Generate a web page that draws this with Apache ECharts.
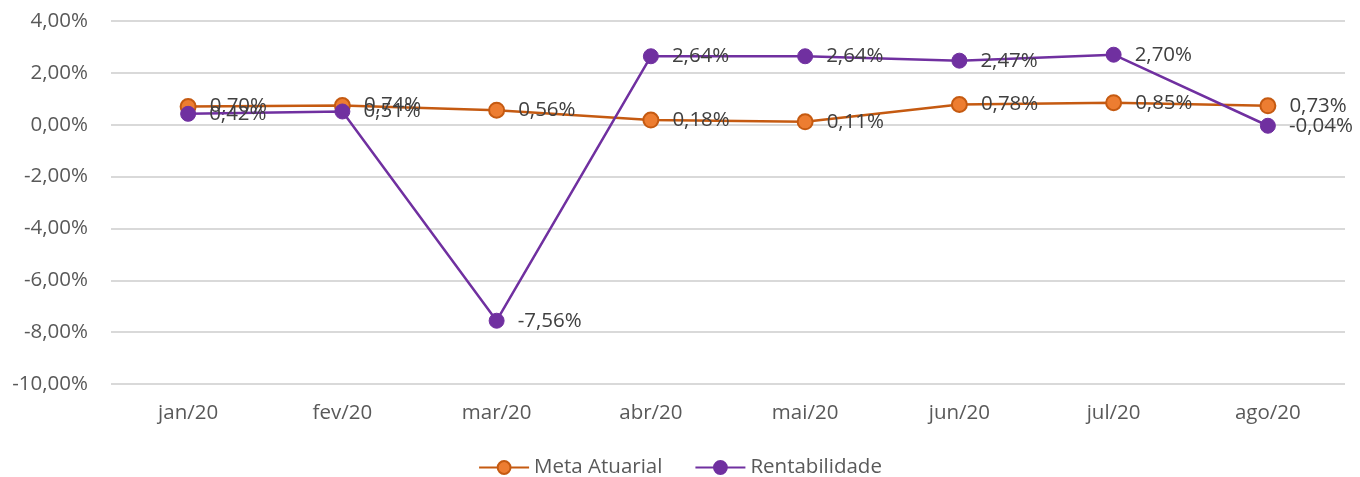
<!DOCTYPE html>
<html><head><meta charset="utf-8">
<script src="https://cdn.jsdelivr.net/npm/echarts@6/dist/echarts.min.js"></script>
<style>html,body{margin:0;padding:0;background:#fff}#c{width:1360px;height:477px}</style>
</head><body><div id="c"></div>
<script>
const categories = ['jan/20','fev/20','mar/20','abr/20','mai/20','jun/20','jul/20','ago/20'];
const metaAtuarial = [0.70, 0.74, 0.56, 0.18, 0.11, 0.78, 0.85, 0.73];
const rentabilidade = [0.42, 0.51, -7.56, 2.64, 2.64, 2.47, 2.70, -0.04];
const seriesNames = ['Meta Atuarial', 'Rentabilidade'];

const fmt = v => v.toFixed(2).replace('.', ',') + '%';
const FONT = 'Open Sans';
const chart = echarts.init(document.getElementById('c'));
chart.setOption({
  animation: false,
  textStyle: { fontFamily: FONT },
  grid: { left: 111, right: 15, top: 21, bottom: 93, containLabel: false },
  legend: {
    top: 452, left: 'center', itemWidth: 50, itemHeight: 16, itemGap: 32,
    textStyle: { fontSize: 20.5, color: '#595959', fontFamily: FONT },
    data: seriesNames
  },
  xAxis: {
    type: 'category', data: categories, boundaryGap: true,
    axisLine: { show: false }, axisTick: { show: false },
    axisLabel: { fontSize: 20.5, color: '#595959', margin: 19 }
  },
  yAxis: {
    type: 'value', min: -10, max: 4, interval: 2,
    axisLabel: { fontSize: 20.5, color: '#595959', margin: 23, formatter: v => fmt(v) },
    splitLine: { lineStyle: { color: '#d9d9d9', width: 2 } },
    axisLine: { show: false }, axisTick: { show: false }
  },
  series: [
    {
      name: seriesNames[0], type: 'line', data: metaAtuarial,
      symbol: 'circle', symbolSize: 15,
      lineStyle: { color: '#C55A11', width: 2.5 },
      itemStyle: { color: '#ED7D31', borderColor: '#C55A11', borderWidth: 2 },
      label: { show: true, position: 'right', distance: 13, fontSize: 20.5, color: '#404040', formatter: p => fmt(p.value) },
      z: 2
    },
    {
      name: seriesNames[1], type: 'line', data: rentabilidade,
      symbol: 'circle', symbolSize: 15,
      lineStyle: { color: '#7030A0', width: 2.5 },
      itemStyle: { color: '#7030A0', borderColor: '#7030A0', borderWidth: 1 },
      label: { show: true, position: 'right', distance: 13, fontSize: 20.5, color: '#404040', formatter: p => fmt(p.value) },
      z: 3
    }
  ]
});
</script></body></html>
